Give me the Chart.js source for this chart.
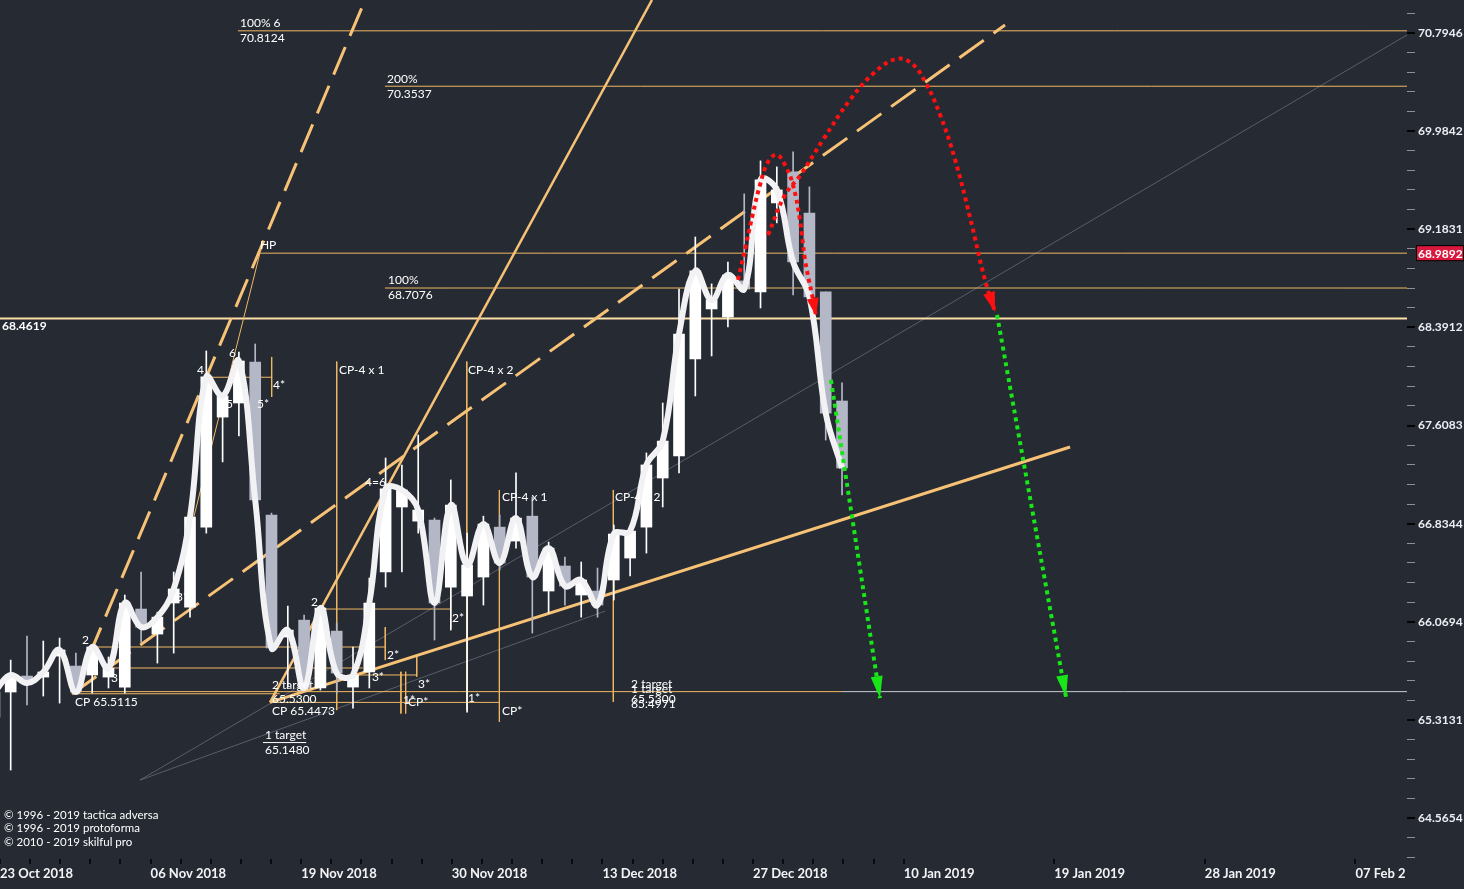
<!DOCTYPE html>
<html>
<head>
<meta charset="utf-8">
<script src="https://cdn.jsdelivr.net/npm/chart.js@4.4.0/dist/chart.umd.min.js"></script>
<style>
  html, body { margin: 0; padding: 0; background: #252a33; }
  #wrap { width: 1464px; height: 889px; }
</style>
</head>
<body>
<div id="wrap"><canvas id="chart" width="1464" height="889"></canvas></div>
<script>
"use strict";

// ---- axis ranges and ticks ----
const X_MIN = -0.656;
const X_MAX = 85.66;
const Y_MIN = 64.2558;
const Y_MAX = 71.069;

const dateLabels = ["23 Oct 2018", "06 Nov 2018", "19 Nov 2018", "30 Nov 2018", "13 Dec 2018",
    "27 Dec 2018", "10 Jan 2019", "19 Jan 2019", "28 Jan 2019", "07 Feb 2019"];
const dateTickPos = [-0.656, 8.583, 17.82, 27.06, 36.30, 45.54, 54.78, 64.02, 73.26, 82.50];
const priceTicks = [64.5654, 65.3131, 66.0694, 66.8344, 67.6083, 68.3912, 69.1831, 69.9842, 70.7946];

// ---- candles (bar index, OHLC) ----
const barIdx = [-1, 0, 1, 2, 3, 4, 5, 6, 7, 8, 9, 10, 11, 12, 13, 14, 15, 16, 17, 18, 19, 20,
    21, 22, 23, 24, 25, 26, 27, 28, 29, 30, 31, 32, 33, 34, 35, 36, 37, 38, 39, 40, 41, 42, 43,
    44, 45, 46, 47, 48, 49, 50, 51];
const opens = [65.334, 65.527, 65.650, 65.642, 65.804, 65.727, 65.658, 65.642, 65.565, 66.168,
    65.974, 66.215, 66.183, 66.807, 67.675, 67.787, 68.114, 66.902, 65.951, 66.082, 65.558,
    65.997, 65.565, 65.681, 66.456, 66.965, 66.854, 66.862, 66.339, 66.269, 66.417, 66.807,
    66.698, 66.893, 66.308, 66.503, 66.277, 66.308, 66.394, 66.565, 66.807, 67.193, 67.367,
    68.138, 68.539, 68.474, 68.765, 68.676, 69.397, 69.650, 69.315, 68.676, 67.803];
const highs = [65.558, 65.773, 65.958, 65.920, 65.943, 65.827, 65.889, 65.797, 66.277, 66.456,
    66.144, 66.456, 66.902, 68.202, 67.867, 68.194, 68.258, 66.917, 66.191, 66.121, 66.191,
    66.059, 65.874, 66.409, 67.351, 67.296, 67.533, 66.878, 67.178, 66.760, 66.893, 66.902,
    67.233, 67.044, 66.690, 66.573, 66.534, 66.487, 66.823, 66.799, 67.391, 67.787, 68.700,
    69.120, 68.741, 68.918, 69.471, 69.740, 69.691, 69.814, 69.528, 68.676, 67.947];
const lows = [65.273, 64.930, 65.427, 65.496, 65.442, 65.512, 65.519, 65.558, 65.519, 65.912,
    65.750, 65.827, 66.105, 66.760, 67.320, 67.525, 67.004, 65.851, 65.565, 65.527, 65.542,
    65.519, 65.403, 65.558, 66.339, 66.456, 66.760, 65.928, 66.005, 65.373, 66.199, 66.472,
    66.643, 65.982, 66.137, 66.199, 66.105, 66.105, 66.238, 66.425, 66.604, 66.965, 67.233,
    67.843, 68.162, 68.394, 68.676, 68.547, 69.235, 68.652, 68.636, 67.493, 67.060];
const closes = [65.527, 65.658, 65.596, 65.681, 65.851, 65.527, 65.874, 65.712, 66.215, 66.028,
    66.105, 66.324, 66.886, 67.995, 67.843, 68.122, 67.020, 65.866, 66.005, 65.558, 66.176,
    65.673, 65.658, 66.215, 67.107, 67.099, 66.941, 66.215, 66.980, 66.511, 66.831, 66.526,
    66.878, 66.417, 66.643, 66.347, 66.394, 66.199, 66.753, 66.776, 67.296, 67.485, 68.338,
    68.846, 68.612, 68.813, 68.700, 69.585, 69.503, 68.918, 68.636, 67.707, 67.272];

// ---- drawn analysis: levels, cp marks, trend lines ----
// [value, from k, to k, style]
const levelLines = [
    [70.8124, 13.94, X_MAX, "thin"],
    [70.3537, 22.96, X_MAX, "thin"],
    [68.9892, 15.29, X_MAX, "thin"],
    [68.7076, 22.96, X_MAX, "thin"],
    [68.4619, X_MIN, X_MAX, "main"],
    [65.5300, 4.07, 51.0, "thin"],
    [65.5300, 51.0, X_MAX, "light"],
    [65.5136, 4.07, 16.5, "thin"],
    [65.4473, 15.9, 30.0, "thin"],
    [67.992, 12.02, 16.01, "thin"],
    [67.843, 13.64, 14.56, "thin"],
    [65.874, 5.0, 22.98, "thin"],
    [65.712, 6.09, 21.6, "thin"],
    [66.168, 18.98, 26.99, "thin"],
    [65.658, 20.94, 24.91, "thin"]
];
// [k, from value, to value]
const cpLines = [
    [16.01, 68.154, 67.835],
    [22.98, 66.028, 65.773],
    [20.0, 68.117, 65.388],
    [27.98, 68.117, 65.388],
    [29.98, 67.099, 65.298],
    [36.97, 67.099, 65.451],
    [26.99, 66.331, 66.020],
    [24.91, 65.804, 65.645],
    [23.94, 65.683, 65.362],
    [24.23, 65.683, 65.362]
];
// [k1, v1, k2, v2, width, dashed]
const trendLines = [
    [3.82, 65.5115, 21.74, 71.069, 3, true],
    [3.76, 65.5115, 61.0, 70.861, 3, true],
    [15.91, 65.4473, 39.34, 71.069, 2.5, false],
    [15.91, 65.4473, 64.99, 67.438, 3, false],
    [15.29, 68.9892, 10.88, 66.706, 1, false]
];
const greyRays = [
    [7.93, 64.8535, X_MAX, 70.778],
    [7.93, 64.8535, 36.46, 66.152]
];

// projected paths
const redSmallK = [44.62, 45.11, 45.54, 45.97, 46.46, 47.0, 47.5, 47.99, 48.42, 48.73, 49.16, 49.41];
const redSmallV = [68.773, 69.056, 69.315, 69.544, 69.732, 69.790, 69.707, 69.544, 69.258, 68.935, 68.652, 68.482];
const redBigK = [46.46, 47.5, 48.42, 49.83, 51.49, 53.03, 54.37, 55.3, 56.1, 57.02, 57.94, 58.86, 59.77, 60.39];
const redBigV = [69.136, 69.462, 69.618, 69.912, 70.241, 70.472, 70.580, 70.539, 70.390, 70.117, 69.748, 69.275, 68.773, 68.515];
const greenAK = [50.32, 53.33];
const greenAV = [67.971, 65.480];
const greenBK = [60.51, 64.74];
const greenBV = [68.491, 65.488];

// [text, k, value, style]
const notes = [
    ["100% 6", 14.07, 70.877], ["70.8124", 14.07, 70.753],
    ["200%", 23.09, 70.415], ["70.3537", 23.09, 70.291],
    ["HP", 15.29, 69.056],
    ["100%", 23.15, 68.773], ["68.7076", 23.15, 68.652],
    ["68.4619", -0.53, 68.402, "bold"],
    ["4", 11.43, 68.050], ["6", 13.39, 68.186], ["5", 13.21, 67.779],
    ["4*", 16.09, 67.931], ["5*", 15.11, 67.779],
    ["3*", 10.14, 66.261], ["2", 4.37, 65.928], ["3", 6.15, 65.635],
    ["CP 65.5115", 3.94, 65.450],
    ["CP-4 x 1", 20.14, 68.050], ["CP-4 x 2", 28.06, 68.050],
    ["4=6", 21.74, 67.162], ["2", 18.42, 66.222],
    ["2*", 27.07, 66.098], ["2*", 23.09, 65.812],
    ["3*", 22.16, 65.642], ["3*", 24.99, 65.588], ["3", 20.69, 65.596],
    ["2 target", 16.03, 65.581], ["65.5300", 16.03, 65.473], ["CP 65.4473", 16.03, 65.380],
    ["1 target", 15.6, 65.197, "under"], ["65.1480", 15.6, 65.082],
    ["1*", 24.07, 65.465], ["CP*", 24.37, 65.450], ["1*", 28.06, 65.480], ["CP*", 30.14, 65.380],
    ["CP-4 x 1", 30.14, 67.044], ["CP-4 x 2", 37.07, 67.044],
    ["2 target", 38.06, 65.588], ["1 target", 38.06, 65.550],
    ["65.5300", 38.06, 65.473], ["65.4971", 38.06, 65.434]
];
const copyright = ["© 1996 - 2019 tactica adversa", "© 1996 - 2019 protoforma", "© 2010 - 2019 skilful pro"];
const hpLevel = 68.9892;

// ---- colours ----
const BG = "#252a33";
const ORANGE = "#f8c276";
const THIN_ORANGE = "#f0b862";
const CANDLE_UP = "#ffffff";
const CANDLE_DOWN = "#b4b7c6";

function seg(points, color, width, dash, order) {
    return {
        type: "line",
        data: points.map(p => ({ x: p[0], y: p[1] })),
        borderColor: color,
        borderWidth: width,
        borderDash: dash || [],
        borderCapStyle: "butt",
        pointRadius: 0,
        tension: 0,
        fill: false,
        order: order
    };
}

const datasets = [];

greyRays.forEach(r => datasets.push(seg([[r[0], r[1]], [r[2], r[3]]], "rgba(110,115,128,0.7)", 1, null, 100)));

levelLines.forEach(l => {
    const color = l[3] === "main" ? "#fde0a8" : (l[3] === "light" ? "#c9cbd2" : THIN_ORANGE);
    const width = l[3] === "main" ? 2 : 1;
    datasets.push(seg([[l[1], l[0]], [l[2], l[0]]], color, width, null, 90));
});
cpLines.forEach(c => datasets.push(seg([[c[0], c[1]], [c[0], c[2]]], THIN_ORANGE, 1, null, 90)));

trendLines.forEach(t => {
    const color = t[4] < 2 ? THIN_ORANGE : ORANGE;
    datasets.push(seg([[t[0], t[1]], [t[2], t[3]]], color, t[4], t[5] ? [30, 12] : null, 80));
});

const candleColor = barIdx.map((k, i) => closes[i] >= opens[i] ? CANDLE_UP : CANDLE_DOWN);

// wicks
datasets.push({
    type: "bar",
    data: barIdx.map((k, i) => ({ x: k, y: [lows[i], highs[i]] })),
    backgroundColor: candleColor,
    barThickness: 1,
    grouped: false,
    order: 50
});
// bodies
datasets.push({
    type: "bar",
    data: barIdx.map((k, i) => ({ x: k, y: [opens[i], closes[i]] })),
    backgroundColor: candleColor,
    barThickness: 11,
    grouped: false,
    order: 45
});
// smoothed close line
datasets.push({
    type: "line",
    data: barIdx.map((k, i) => ({ x: k, y: closes[i] })),
    borderColor: "#f2f2f4",
    borderWidth: 6,
    pointRadius: 0,
    tension: 0.4,
    fill: false,
    order: 30
});

function path(ks, vs, color, arrowLen) {
    return {
        type: "line",
        data: ks.map((k, i) => ({ x: k, y: vs[i] })),
        borderColor: color,
        borderWidth: 4,
        borderDash: [4, 4],
        borderCapStyle: "butt",
        pointRadius: 0,
        tension: 0.4,
        fill: false,
        order: 20,
        arrowHead: arrowLen
    };
}
datasets.push(path(greenAK, greenAV, "#19e619", 22));
datasets.push(path(greenBK, greenBV, "#19e619", 22));
datasets.push(path(redSmallK, redSmallV, "#ff1010", 18));
datasets.push(path(redBigK, redBigV, "#ff1010", 20));

// ---- tick lists ----
const xTicks = [];
const xTickText = [];
dateTickPos.forEach((p, i) => {
    xTicks.push(p); xTickText.push(dateLabels[i]);
    if (i < 6) {
        const step = (dateTickPos[i + 1] - p) / 5;
        for (let j = 1; j < 5; j++) { xTicks.push(p + step * j); xTickText.push(""); }
    }
});

const yTicks = [];
const yMajor = [];
const ratio = Math.pow(priceTicks[1] / priceTicks[0], 0.2);
for (let j = 2; j >= 1; j--) { yTicks.push(priceTicks[0] / Math.pow(ratio, j)); yMajor.push(false); }
priceTicks.forEach((p, i) => {
    yTicks.push(p); yMajor.push(true);
    const next = i < priceTicks.length - 1 ? priceTicks[i + 1] : null;
    for (let j = 1; j < 5; j++) {
        const v = next ? p * Math.pow(next / p, j / 5) : p * Math.pow(ratio, j);
        if (v < Y_MAX) { yTicks.push(v); yMajor.push(false); }
    }
});

// ---- plugins ----
const background = {
    id: "background",
    beforeDraw(chart) {
        const c = chart.ctx;
        c.save();
        c.fillStyle = BG;
        c.fillRect(0, 0, chart.width, chart.height);
        c.restore();
    }
};

const overlay = {
    id: "overlay",
    afterDatasetsDraw(chart) {
        const c = chart.ctx;
        const xs = chart.scales.x, ys = chart.scales.y;
        const area = chart.chartArea;

        // arrow heads
        chart.data.datasets.forEach((ds, i) => {
            if (!ds.arrowHead) return;
            const pts = chart.getDatasetMeta(i).data;
            const a = pts[pts.length - 2], b = pts[pts.length - 1];
            const ang = Math.atan2(b.y - a.y, b.x - a.x);
            const len = ds.arrowHead, half = 6;
            c.save();
            c.fillStyle = ds.borderColor;
            c.beginPath();
            c.moveTo(b.x, b.y);
            c.lineTo(b.x - len * Math.cos(ang) + half * Math.sin(ang), b.y - len * Math.sin(ang) - half * Math.cos(ang));
            c.lineTo(b.x - len * Math.cos(ang) - half * Math.sin(ang), b.y - len * Math.sin(ang) + half * Math.cos(ang));
            c.closePath();
            c.fill();
            c.restore();
        });

        // text notes
        c.save();
        c.textBaseline = "middle";
        c.textAlign = "left";
        notes.forEach(n => {
            const px = xs.getPixelForValue(n[1]);
            const py = ys.getPixelForValue(n[2]);
            c.font = (n[3] === "bold" ? "bold " : "") + "12px Lato, 'DejaVu Sans', sans-serif";
            c.fillStyle = "#ffffff";
            c.fillText(n[0], px, py);
            if (n[3] === "under") {
                const w = c.measureText(n[0]).width;
                c.strokeStyle = "#ffffff";
                c.lineWidth = 1;
                c.beginPath();
                c.moveTo(px - 2, py + 7.5);
                c.lineTo(px + w, py + 7.5);
                c.stroke();
            }
        });
        c.font = "11.5px Lato, 'DejaVu Sans', sans-serif";
        copyright.forEach((t, i) => c.fillText(t, area.left + 4, area.bottom - 44 + i * 13.5));
        c.restore();
    },
    afterDraw(chart) {
        const c = chart.ctx;
        const ys = chart.scales.y;
        const area = chart.chartArea;
        const py = ys.getPixelForValue(hpLevel);
        c.save();
        c.fillStyle = "#000000";
        c.fillRect(area.right + 9, py - 8, 48, 16);
        c.fillStyle = "#d8183e";
        c.fillRect(area.right + 10, py - 7, 46, 14);
        c.fillStyle = "#ffffff";
        c.font = "bold 12px Lato, 'DejaVu Sans', sans-serif";
        c.textBaseline = "middle";
        c.fillText(hpLevel.toFixed(4), area.right + 11, py + 0.5);
        // last date label runs under the price panel
        c.fillStyle = BG;
        c.fillRect(area.right - 2, area.bottom + 6, chart.width - area.right + 2, chart.height - area.bottom - 6);
        c.restore();
    }
};

new Chart(document.getElementById("chart"), {
    type: "bar",
    data: { datasets: datasets },
    options: {
        responsive: false,
        animation: false,
        devicePixelRatio: 1,
        layout: { padding: 0 },
        plugins: { legend: { display: false }, tooltip: { enabled: false } },
        scales: {
            x: {
                type: "linear",
                offset: false,
                min: X_MIN,
                max: X_MAX,
                afterBuildTicks: s => { s.ticks = xTicks.map(v => ({ value: v })); },
                afterFit: s => { s.height = 30; s.paddingLeft = 0; s.paddingRight = 0; },
                ticks: {
                    autoSkip: false,
                    maxRotation: 0,
                    align: "start",
                    padding: 2,
                    color: "#f4f4f6",
                    font: { family: "Lato, 'DejaVu Sans', sans-serif", weight: "bold", size: 13 },
                    callback: (v, i) => xTickText[i]
                },
                grid: { offset: false, drawOnChartArea: false, drawTicks: true, tickLength: 5, color: "#0b0b0d", lineWidth: 2 },
                border: { display: false }
            },
            y: {
                type: "logarithmic",
                position: "right",
                min: Y_MIN,
                max: Y_MAX,
                afterBuildTicks: s => { s.ticks = yTicks.map(v => ({ value: v })); },
                afterFit: s => { s.width = 57; s.paddingTop = 0; s.paddingBottom = 0; },
                ticks: {
                    autoSkip: false,
                    padding: 3,
                    color: "#eceef4",
                    font: { family: "Lato, 'DejaVu Sans', sans-serif", weight: "bold", size: 12 },
                    callback: (v, i) => yMajor[i] ? yTicks[i].toFixed(4) : ""
                },
                grid: {
                    drawOnChartArea: false,
                    drawTicks: true,
                    tickLength: 8,
                    color: ctx => yMajor[ctx.index] ? "#050505" : "#8d9099",
                    lineWidth: ctx => yMajor[ctx.index] ? 2 : 1
                },
                border: { display: false }
            }
        }
    },
    plugins: [background, overlay]
});
</script>
</body>
</html>
